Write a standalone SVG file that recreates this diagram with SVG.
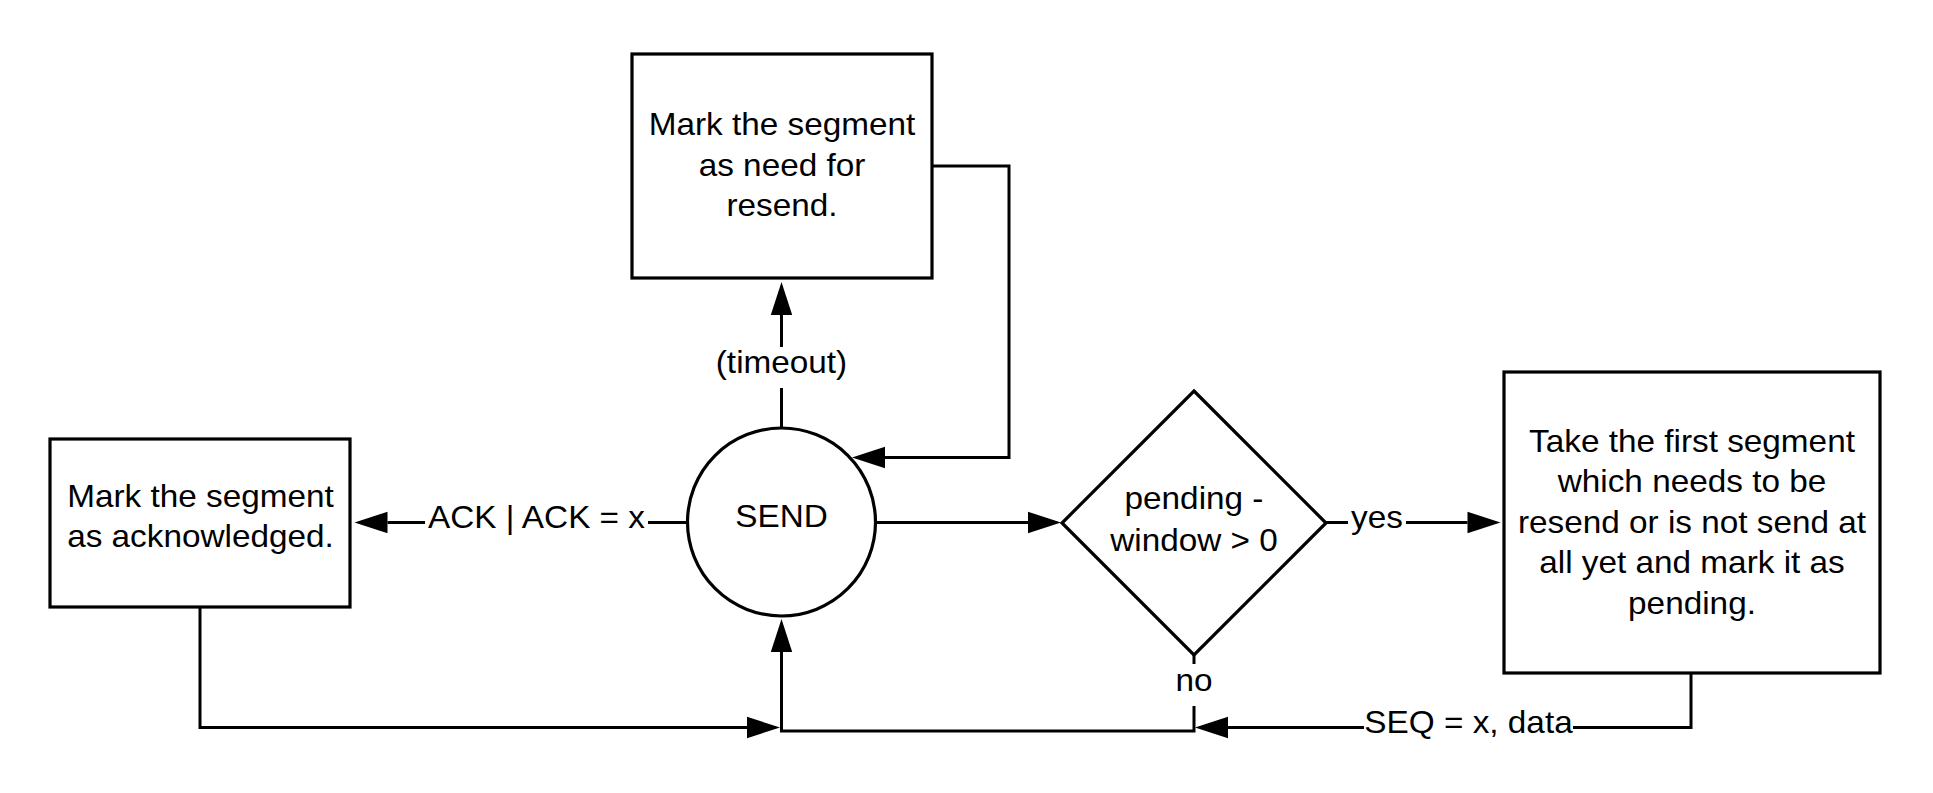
<svg xmlns="http://www.w3.org/2000/svg" width="1933" height="793" viewBox="0 0 1933 793">
<style>
.shape{fill:#fff;stroke:#000;stroke-width:3.2}
.ln{fill:none;stroke:#000;stroke-width:3}
.t{font-family:"Liberation Sans",Arial,sans-serif;font-size:31px;fill:#000;text-anchor:middle}
</style>
<defs>
<marker id="arr" markerUnits="userSpaceOnUse" markerWidth="34" markerHeight="22" refX="0" refY="10.7" orient="auto" viewBox="0 0 34 22" overflow="visible">
<path d="M0,0 L33,10.7 L0,21.4 Z" fill="#000"/>
</marker>
</defs>
<rect width="1933" height="793" fill="#fff"/>
<g id="connectors">
<path class="ln" d="M200,607 V727.5 H747" marker-end="url(#arr)"/>
<path class="ln" d="M1691,673 V727.5 H1573"/>
<path class="ln" d="M1364,727.5 H1228" marker-end="url(#arr)"/>
<path class="ln" d="M1194,655 V664"/>
<path class="ln" d="M1194,706 V731 H781.5 V652" marker-end="url(#arr)"/>
<path class="ln" d="M876,522.5 H1028" marker-end="url(#arr)"/>
<path class="ln" d="M1326,522.5 H1348"/>
<path class="ln" d="M1406,522.5 H1467.5" marker-end="url(#arr)"/>
<path class="ln" d="M687.5,522.5 H648"/>
<path class="ln" d="M425,522.5 H387.5" marker-end="url(#arr)"/>
<path class="ln" d="M781.5,428 V388"/>
<path class="ln" d="M781.5,347 V315" marker-end="url(#arr)"/>
<path class="ln" d="M932,166 H1009 V457.5 H885" marker-end="url(#arr)"/>
<text class="t" transform="translate(536.5 0) scale(1.075 1)" x="0" y="528.5">ACK | ACK = x</text>
<text class="t" transform="translate(1377 0) scale(1.075 1)" x="0" y="528.5">yes</text>
<text class="t" transform="translate(1468.5 0) scale(1.075 1)" x="0" y="733.5">SEQ = x, data</text>
<text class="t" transform="translate(1194 0) scale(1.075 1)" x="0" y="691.5">no</text>
<text class="t" transform="translate(781.5 0) scale(1.075 1)" x="0" y="373.5">(timeout)</text>
</g>
<g id="node-resend">
<rect class="shape" x="632" y="54" width="300" height="224"/>
<text class="t" transform="translate(782 0) scale(1.075 1)" y="135.5"><tspan x="0">Mark the segment</tspan><tspan x="0" dy="40.5">as need for</tspan><tspan x="0" dy="40.5">resend.</tspan></text>
</g>
<g id="node-ack">
<rect class="shape" x="50" y="439" width="300" height="168"/>
<text class="t" transform="translate(200.5 0) scale(1.075 1)" y="507.5"><tspan x="0">Mark the segment</tspan><tspan x="0" dy="40">as acknowledged.</tspan></text>
</g>
<g id="node-send">
<circle class="shape" cx="781.5" cy="522" r="94"/>
<text class="t" transform="translate(781.5 0) scale(1.075 1)" x="0" y="527.5">SEND</text>
</g>
<g id="node-decision">
<polygon class="shape" points="1194,391 1326,523 1194,655 1062,523"/>
<text class="t" transform="translate(1194 0) scale(1.075 1)" y="509.5"><tspan x="0">pending -</tspan><tspan x="0" dy="41.5">window &gt; 0</tspan></text>
</g>
<g id="node-take">
<rect class="shape" x="1504" y="372" width="376" height="301"/>
<text class="t" transform="translate(1692 0) scale(1.075 1)" y="452"><tspan x="0">Take the first segment</tspan><tspan x="0" dy="40.4">which needs to be</tspan><tspan x="0" dy="40.4">resend or is not send at</tspan><tspan x="0" dy="40.4">all yet and mark it as</tspan><tspan x="0" dy="40.4">pending.</tspan></text>
</g>
</svg>
